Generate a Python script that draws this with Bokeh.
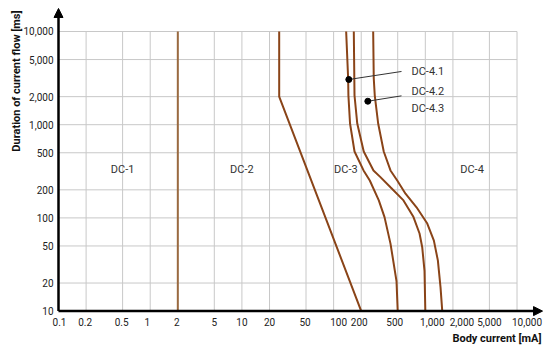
import math
from bokeh.plotting import figure
from bokeh.models import Range1d, Arrow, NormalHead, ColumnDataSource
from bokeh.core.properties import value
from bokeh.embed import file_html
from bokeh.resources import INLINE

# ---- data ----
x_ticks = [0.1, 0.2, 0.5, 1, 2, 5, 10, 20, 50, 100, 200, 500, 1000, 2000, 5000, 10000]
y_ticks = [10, 20, 50, 100, 200, 500, 1000, 2000, 5000, 10000]
x_tick_labels = [f"{v:,}" for v in x_ticks]
y_tick_labels = [f"{v:,}" for v in y_ticks]

c1_x = [2, 2]
c1_y = [10, 10000]

c2_x = [200, 25.5, 25.5]
c2_y = [10, 2000, 10000]

c41_x = [137, 144, 145, 151, 169, 212, 248, 311, 359, 417, 485, 500]
c41_y = [10000, 3130, 2057, 1030, 516, 323, 252, 154, 102, 53, 21, 10]

c42_x = [166, 169, 181, 213, 272, 324, 417, 578, 743, 865, 925, 980, 1000]
c42_y = [10000, 2057, 1030, 516, 323, 274, 213, 154, 102, 68, 48.5, 27, 10]

c43_x = [270, 274, 281, 306, 352, 417, 494, 608, 802, 1050, 1240, 1370, 1465, 1530]
c43_y = [10000, 3130, 2057, 1030, 516, 323, 252, 182, 130, 87, 57, 35, 18, 10]

region_names = ["DC-1", "DC-2", "DC-3", "DC-4"]
region_x = [0.5, 10, 136, 3230]
region_y = [330, 330, 330, 330]

sub_names = ["DC-4.1", "DC-4.2", "DC-4.3"]
sub_x = [706, 706, 706]
sub_y = [3750, 2270, 1503]

dot_x = [146.5, 236]
dot_y = [3055, 1786]
lead_x = [550, 550]
lead_y = [3725, 2040]

x_title = "Body current [mA]"
y_title = "Duration of current flow [ms]"

# ---- layout (log positions, pixel nudges) ----
X0, X1 = 10 ** -1.6325, 10 ** 4.365      # canvas edges in data units
Y0, Y1 = 10 ** 0.5665, 10 ** 4.3326
X_TIP = 10 ** 4.278                        # x-axis arrow tip
Y_TIP = 10 ** 4.247                        # y-axis arrow tip
XLAB_Y = 10 ** 0.8777                      # row of x tick labels
YLAB_X = 10 ** -1.0545                     # right edge of y tick labels
XT_POS = (10 ** 4.267, 10 ** 0.706)
YT_POS = (10 ** -1.458, 10 ** 4.225)
xlab_dx = [1, -1, -1, -3, -1, 0, 0, 0, -1, 5, -2, -3, 7, 9, 0, 10]   # label nudges (px)

FONT = "Roboto"
CURVE = "#8a4418"
GRID = "#c8c8c8"
TXT = "#333333"

p = figure(width=550, height=351, x_axis_type="log", y_axis_type="log",
           x_range=Range1d(X0, X1), y_range=Range1d(Y0, Y1),
           x_axis_location=None, y_axis_location=None,
           output_backend="svg", toolbar_location=None)
p.min_border = 0
p.min_border_left = 0
p.min_border_right = 0
p.min_border_top = 0
p.min_border_bottom = 0
p.outline_line_color = None
p.xgrid.visible = False
p.ygrid.visible = False

# grid lines limited to the data area
p.segment(x0=x_ticks, y0=[y_ticks[0]] * len(x_ticks), x1=x_ticks, y1=[y_ticks[-1]] * len(x_ticks),
          line_color=GRID, line_width=1)
p.segment(x0=[x_ticks[0]] * len(y_ticks), y0=y_ticks, x1=[x_ticks[-1]] * len(y_ticks), y1=y_ticks,
          line_color=GRID, line_width=1)

# curves
p.line(c1_x, c1_y, line_color="#9a6a40", line_width=2)
p.line(c2_x, c2_y, line_color=CURVE, line_width=2)
p.line(c41_x, c41_y, line_color=CURVE, line_width=2)
p.line(c42_x, c42_y, line_color=CURVE, line_width=2)
p.line(c43_x, c43_y, line_color=CURVE, line_width=2)

# leaders
p.segment(x0=dot_x, y0=dot_y, x1=lead_x, y1=lead_y, line_color="#333333", line_width=1)
p.scatter(dot_x, dot_y, size=6, color="black")

# region labels
p.text(x=region_x, y=region_y, text=region_names, text_font=value(FONT),
       text_font_size="11px", text_color=TXT, text_align="center", text_baseline="middle")
p.text(x=sub_x, y=sub_y, text=sub_names, text_font=value(FONT),
       text_font_size="11px", text_color=TXT, text_align="left", text_baseline="middle")

# tick labels
xsrc = ColumnDataSource(dict(x=x_ticks, y=[XLAB_Y] * len(x_ticks), t=x_tick_labels, dx=xlab_dx))
p.text(x="x", y="y", text="t", x_offset="dx", source=xsrc, text_font=value(FONT),
       text_font_size="10px", text_color="#222222", text_align="center", text_baseline="middle")
p.text(x=[YLAB_X] * len(y_ticks), y=y_ticks, text=y_tick_labels, text_font=value(FONT),
       text_font_size="10px", text_color="#222222", text_align="right", text_baseline="middle")

# axis titles
p.text(x=[XT_POS[0]], y=[XT_POS[1]], text=[x_title], text_font=value(FONT),
       text_font_size="11px", text_font_style="bold", text_color="#111111",
       text_align="right", text_baseline="middle")
p.text(x=[YT_POS[0]], y=[YT_POS[1]], text=[y_title], text_font=value(FONT),
       text_font_size="11px", text_font_style="bold", text_color="#111111",
       text_align="right", text_baseline="middle", angle=math.pi / 2)

# axes with arrows
head = dict(size=9, fill_color="black", line_color="black")
p.add_layout(Arrow(end=NormalHead(**head), x_start=x_ticks[0], y_start=y_ticks[0],
                   x_end=X_TIP, y_end=y_ticks[0], line_width=2.5, line_color="black"))
p.add_layout(Arrow(end=NormalHead(**head), x_start=x_ticks[0], y_start=y_ticks[0],
                   x_end=x_ticks[0], y_end=Y_TIP, line_width=2.5, line_color="black"))

open("out.html", "w").write(file_html(p, INLINE))
